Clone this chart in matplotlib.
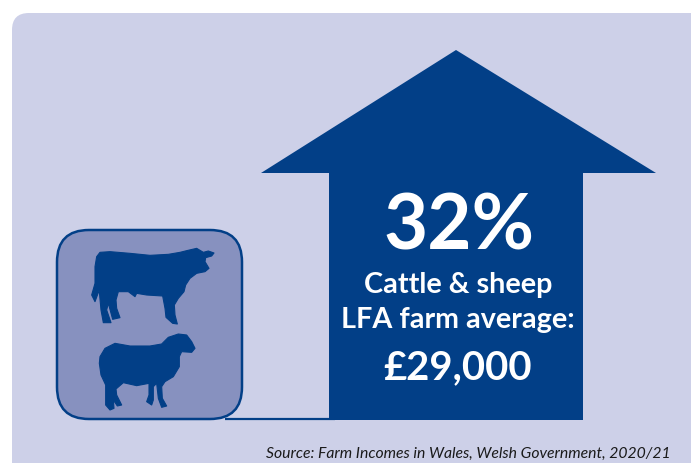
import matplotlib
matplotlib.use('Agg')
import matplotlib.pyplot as plt
from matplotlib.patches import FancyBboxPatch, Polygon

PANEL = '#cdd0e8'
NAVY = '#023f87'
BOX = '#8791bf'

headline = '32%'
label_lines = ['Cattle & sheep', 'LFA farm average:']
amount = '£29,000'
source = 'Source: Farm Incomes in Wales, Welsh Government, 2020/21'

arrow_x = [456, 656, 583, 583, 329, 329, 261]
arrow_y = [50, 173, 173, 420, 420, 173, 173]

# silhouettes traced at 3x, offset from the icon box
cow_x = [180, 210, 270, 330, 385, 420, 440, 470, 490, 505, 522, 515, 497, 495, 507, 495, 470, 450,
         437, 432, 415, 403, 405, 412, 398, 378, 375, 368, 320, 290, 285, 265, 235, 228, 230, 240,
         218, 205, 200, 213, 190, 183, 178, 176, 165, 155, 165, 165, 170]
cow_y = [97, 95, 100, 106, 103, 97, 92, 85, 97, 93, 99, 108, 113, 125, 145, 155, 160, 175,
         195, 215, 235, 255, 285, 312, 310, 292, 265, 228, 225, 220, 230, 215, 215, 240, 265, 293,
         298, 250, 270, 308, 308, 270, 215, 215, 245, 225, 190, 140, 110]
sheep_x = [180, 195, 225, 270, 330, 365, 385, 415, 440, 455, 465, 455, 425, 418, 418, 400, 375, 365,
           367, 380, 365, 355, 350, 340, 340, 335, 320, 327, 327, 290, 250, 228, 230, 245, 232, 220,
           222, 210, 197, 197, 183, 178]
sheep_y = [110, 85, 70, 78, 78, 72, 52, 42, 45, 65, 85, 97, 95, 110, 140, 170, 185, 200,
           235, 258, 262, 235, 190, 200, 240, 255, 245, 225, 190, 197, 188, 207, 225, 255, 258, 240,
           265, 270, 255, 195, 165, 130]

plt.rcParams['font.family'] = ['Lato', 'DejaVu Sans']

fig = plt.figure(figsize=(6.91, 4.63), dpi=100, facecolor='white')
ax = fig.add_axes([0, 0, 1, 1])
ax.set_xlim(0, 691)
ax.set_ylim(463, 0)
ax.axis('off')

ax.add_patch(FancyBboxPatch((12, 13), 720, 500, boxstyle='round,pad=0,rounding_size=17',
                            fc=PANEL, ec='none'))

# baseline running from the icon box into the arrow
ax.plot([225, 335], [419, 419], color=NAVY, lw=1.6, solid_capstyle='butt')
ax.add_patch(Polygon(list(zip(arrow_x, arrow_y)), fc=NAVY, ec='none'))

ax.add_patch(FancyBboxPatch((57, 230), 185, 189, boxstyle='round,pad=0,rounding_size=32',
                            fc=BOX, ec=NAVY, lw=1.8))

ax.add_patch(Polygon([(40 + x / 3, 220 + y / 3) for x, y in zip(cow_x, cow_y)],
                     fc=NAVY, ec=NAVY, lw=0.8, joinstyle='round'))
ax.add_patch(Polygon([(40 + x / 3, 320 + y / 3) for x, y in zip(sheep_x, sheep_y)],
                     fc=NAVY, ec=NAVY, lw=0.8, joinstyle='round'))

ax.text(459, 250, headline, color='white', fontsize=55, fontweight='bold', ha='center', va='baseline')
ax.text(458, 293, label_lines[0], color='white', fontsize=20.7, fontweight='bold', ha='center', va='baseline')
ax.text(458, 328, label_lines[1], color='white', fontsize=20.7, fontweight='bold', ha='center', va='baseline')
ax.text(458, 379, amount, color='white', fontsize=28.8, fontweight='bold', ha='center', va='baseline')

ax.text(671, 458, source, color='#1a1a1a', fontsize=11.35, fontstyle='italic', ha='right', va='baseline')

fig.savefig('out.png', dpi=100)
